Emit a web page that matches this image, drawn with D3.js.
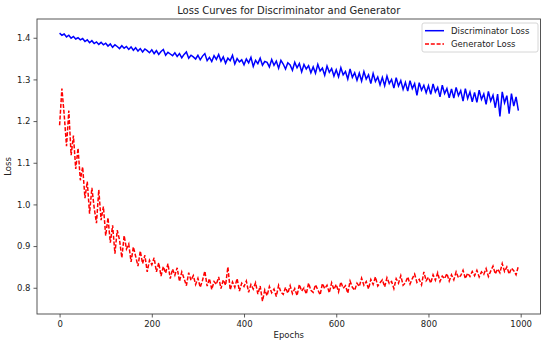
<!DOCTYPE html>
<html>
<head>
<meta charset="utf-8">
<script src="https://cdn.jsdelivr.net/npm/d3@7"></script>
<style>
  body { margin: 0; background: #fff; }
  text { font-family: "DejaVu Sans", sans-serif; fill: #222; }
</style>
</head>
<body>
<div id="container"></div>
<script>

// epochs sampled every 5 steps
var epochs = d3.range(0, 1000, 5);

var discriminatorLoss = [
  1.411, 1.406, 1.409, 1.402, 1.406, 1.399, 1.403, 1.397, 1.400, 1.395,
  1.398, 1.391, 1.395, 1.388, 1.393, 1.386, 1.390, 1.384, 1.389, 1.383,
  1.387, 1.380, 1.385, 1.377, 1.383, 1.379, 1.374, 1.381, 1.375, 1.379,
  1.372, 1.378, 1.370, 1.376, 1.368, 1.374, 1.366, 1.373, 1.369, 1.364,
  1.371, 1.362, 1.369, 1.360, 1.367, 1.372, 1.358, 1.365, 1.361, 1.357,
  1.364, 1.355, 1.362, 1.352, 1.360, 1.366, 1.351, 1.358, 1.354, 1.349,
  1.358, 1.347, 1.356, 1.362, 1.345, 1.353, 1.343, 1.357, 1.348, 1.360,
  1.344, 1.354, 1.339, 1.351, 1.345, 1.358, 1.337, 1.350, 1.342, 1.347,
  1.335, 1.349, 1.340, 1.353, 1.331, 1.346, 1.338, 1.351, 1.334, 1.343,
  1.341, 1.330, 1.348, 1.334, 1.344, 1.327, 1.346, 1.337, 1.325, 1.340,
  1.335, 1.322, 1.341, 1.328, 1.338, 1.318, 1.336, 1.325, 1.333, 1.316,
  1.330, 1.315, 1.336, 1.320, 1.327, 1.310, 1.332, 1.317, 1.326, 1.308,
  1.323, 1.306, 1.328, 1.311, 1.319, 1.301, 1.325, 1.305, 1.316, 1.298,
  1.315, 1.296, 1.319, 1.301, 1.311, 1.290, 1.314, 1.295, 1.306, 1.287,
  1.305, 1.285, 1.308, 1.290, 1.300, 1.279, 1.304, 1.284, 1.297, 1.276,
  1.293, 1.272, 1.297, 1.278, 1.290, 1.262, 1.292, 1.274, 1.286, 1.268,
  1.285, 1.264, 1.289, 1.270, 1.281, 1.258, 1.286, 1.266, 1.278, 1.256,
  1.277, 1.255, 1.281, 1.261, 1.273, 1.248, 1.278, 1.254, 1.270, 1.246,
  1.269, 1.245, 1.274, 1.252, 1.265, 1.240, 1.271, 1.248, 1.262, 1.232,
  1.265, 1.211, 1.270, 1.244, 1.261, 1.218, 1.266, 1.236, 1.258, 1.225
];

var generatorLoss = [
  1.190, 1.278, 1.215, 1.140, 1.225, 1.118, 1.165, 1.085, 1.135, 1.058,
  1.090, 1.015, 1.055, 0.978, 1.040, 0.992, 0.955, 1.035, 0.962, 0.995,
  0.925, 0.968, 0.908, 0.950, 0.882, 0.938, 0.915, 0.872, 0.925, 0.893,
  0.905, 0.862, 0.898, 0.875, 0.852, 0.888, 0.858, 0.878, 0.838, 0.866,
  0.855, 0.872, 0.838, 0.860, 0.828, 0.851, 0.835, 0.858, 0.822, 0.845,
  0.830, 0.848, 0.815, 0.838, 0.822, 0.805, 0.836, 0.818, 0.829, 0.808,
  0.823, 0.801, 0.818, 0.840, 0.804, 0.822, 0.796, 0.815, 0.808, 0.826,
  0.798, 0.819, 0.806, 0.850, 0.795, 0.814, 0.801, 0.822, 0.792, 0.811,
  0.803, 0.816, 0.789, 0.808, 0.797, 0.812, 0.785, 0.804, 0.768, 0.795,
  0.781, 0.803, 0.788, 0.797, 0.779, 0.806, 0.790, 0.784, 0.801, 0.787,
  0.805, 0.786, 0.798, 0.781, 0.808, 0.792, 0.800, 0.785, 0.811, 0.794,
  0.789, 0.807, 0.795, 0.783, 0.810, 0.798, 0.806, 0.788, 0.812, 0.796,
  0.808, 0.790, 0.814, 0.799, 0.805, 0.787, 0.816, 0.801, 0.794, 0.811,
  0.803, 0.823, 0.806, 0.815, 0.797, 0.820, 0.808, 0.826, 0.804, 0.812,
  0.819, 0.802, 0.824, 0.810, 0.815, 0.798, 0.822, 0.811, 0.829, 0.806,
  0.812, 0.826, 0.809, 0.822, 0.833, 0.813, 0.820, 0.807, 0.838, 0.817,
  0.825, 0.811, 0.831, 0.818, 0.836, 0.815, 0.828, 0.822, 0.834, 0.816,
  0.831, 0.819, 0.838, 0.824, 0.829, 0.842, 0.822, 0.835, 0.827, 0.839,
  0.829, 0.842, 0.826, 0.838, 0.832, 0.846, 0.827, 0.840, 0.852, 0.833,
  0.845, 0.836, 0.858, 0.839, 0.850, 0.833, 0.847, 0.841, 0.831, 0.852
];

var xTicks = [0, 200, 400, 600, 800, 1000];
var yTicks = [0.8, 0.9, 1.0, 1.1, 1.2, 1.3, 1.4];

var seriesNames = ["Discriminator Loss", "Generator Loss"];

var width = 550, height = 346;
var plot = { left: 37, right: 540.5, top: 19, bottom: 314 };

var svg = d3.select("#container").append("svg")
  .attr("width", width)
  .attr("height", height);

var x = d3.scaleLinear().domain([-49, 1043]).range([plot.left, plot.right]);
var y = d3.scaleLinear().domain([0.737, 1.445]).range([plot.bottom, plot.top]);

// axes
var xAxis = svg.append("g")
  .attr("transform", "translate(0," + plot.bottom + ")")
  .call(d3.axisBottom(x).tickValues(xTicks).tickSize(3.5).tickPadding(3).tickFormat(d3.format("d")));

var yAxis = svg.append("g")
  .attr("transform", "translate(" + plot.left + ",0)")
  .call(d3.axisLeft(y).tickValues(yTicks).tickSize(3.5).tickPadding(3).tickFormat(d3.format(".1f")));

[xAxis, yAxis].forEach(function(a){
  a.select(".domain").remove();
  a.selectAll(".tick line").attr("stroke", "#333").attr("stroke-width", 0.8);
  a.selectAll(".tick text")
    .style("font-size", "8.5px")
    .style("font-family", "DejaVu Sans, sans-serif")
    .attr("fill", "#222");
});

// frame round the plot
svg.append("rect")
  .attr("x", plot.left)
  .attr("y", plot.top)
  .attr("width", plot.right - plot.left)
  .attr("height", plot.bottom - plot.top)
  .attr("fill", "none")
  .attr("stroke", "#444")
  .attr("stroke-width", 0.9);

svg.append("clipPath").attr("id", "plotclip")
  .append("rect")
  .attr("x", plot.left).attr("y", plot.top)
  .attr("width", plot.right - plot.left)
  .attr("height", plot.bottom - plot.top);

var line = d3.line()
  .x(function(d){ return x(d[0]); })
  .y(function(d){ return y(d[1]); });

var discPoints = epochs.map(function(e, i){ return [e, discriminatorLoss[i]]; });
var genPoints = epochs.map(function(e, i){ return [e, generatorLoss[i]]; });

svg.append("path")
  .datum(discPoints)
  .attr("clip-path", "url(#plotclip)")
  .attr("d", line)
  .attr("fill", "none")
  .attr("stroke", "blue")
  .attr("stroke-width", 1.5);

svg.append("path")
  .datum(genPoints)
  .attr("clip-path", "url(#plotclip)")
  .attr("d", line)
  .attr("fill", "none")
  .attr("stroke", "red")
  .attr("stroke-width", 1.5)
  .attr("stroke-dasharray", "4,1.8");

// title and labels
svg.append("text")
  .attr("x", (plot.left + plot.right) / 2)
  .attr("y", 13.5)
  .attr("text-anchor", "middle")
  .style("font-size", "10px")
  .text("Loss Curves for Discriminator and Generator");

svg.append("text")
  .attr("x", (plot.left + plot.right) / 2)
  .attr("y", 338)
  .attr("text-anchor", "middle")
  .style("font-size", "8.5px")
  .text("Epochs");

svg.append("text")
  .attr("transform", "translate(11," + ((plot.top + plot.bottom) / 2) + ") rotate(-90)")
  .attr("text-anchor", "middle")
  .style("font-size", "8.5px")
  .text("Loss");

// legend
var legend = svg.append("g").attr("transform", "translate(422,23)");

legend.append("rect")
  .attr("width", 116)
  .attr("height", 29)
  .attr("rx", 2)
  .attr("fill", "#fff")
  .attr("fill-opacity", 0.8)
  .attr("stroke", "#ccc")
  .attr("stroke-width", 0.8);

var legendStyles = [
  { color: "blue", dash: null },
  { color: "red", dash: "4,1.8" }
];

seriesNames.forEach(function(name, i){
  var row = legend.append("g").attr("transform", "translate(0," + (7.7 + i * 13.3) + ")");
  row.append("line")
    .attr("x1", 3).attr("x2", 22)
    .attr("y1", 0).attr("y2", 0)
    .attr("stroke", legendStyles[i].color)
    .attr("stroke-width", 1.5)
    .attr("stroke-dasharray", legendStyles[i].dash);
  row.append("text")
    .attr("x", 29)
    .attr("y", 3)
    .style("font-size", "8.5px")
    .text(name);
});

</script>
</body>
</html>
